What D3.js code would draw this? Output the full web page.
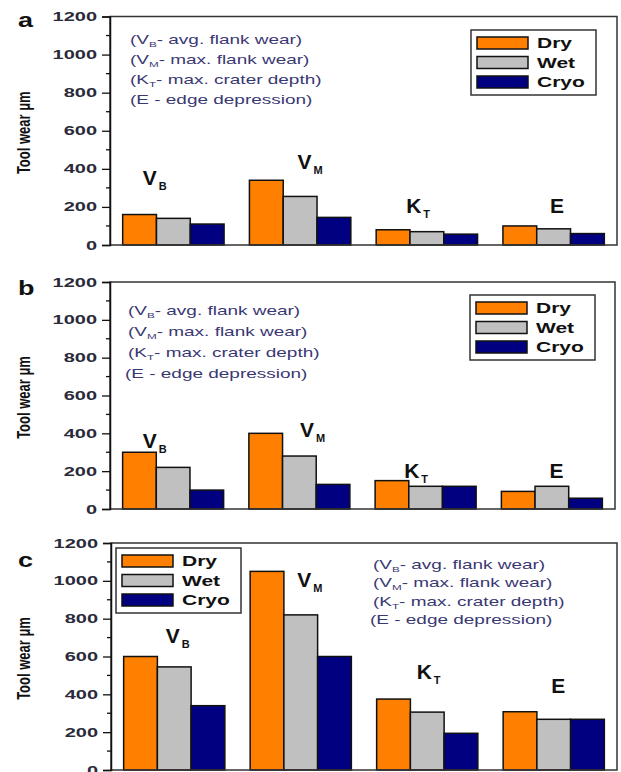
<!DOCTYPE html>
<html>
<head>
<meta charset="utf-8">
<script src="https://cdn.jsdelivr.net/npm/d3@7"></script>
<style>
  body { margin: 0; background: #fff; }
  svg { display: block; }
  text { font-family: "Liberation Sans", Arial, Helvetica, sans-serif; }
</style>
</head>
<body>
<svg id="chart" width="621" height="772"></svg>
<script>
// wear types (x groups) and cooling conditions (series)
const groups = ["VB", "VM", "KT", "E"];
const groupMain = ["V", "V", "K", "E"];
const groupSub = ["B", "M", "T", ""];
const series = ["Dry", "Wet", "Cryo"];
const seriesColors = ["#ff8000", "#c0c0c0", "#000080"];

// tool wear in µm
const dryA = [160, 340, 80, 100];
const wetA = [140, 255, 70, 85];
const cryoA = [110, 145, 57, 60];

const dryB = [300, 400, 150, 93];
const wetB = [220, 280, 120, 120];
const cryoB = [100, 130, 120, 57];

const dryC = [600, 1050, 375, 308];
const wetC = [545, 820, 306, 268];
const cryoC = [340, 600, 194, 268];

const yTicks = [0, 200, 400, 600, 800, 1000, 1200];
const yMinor = [100, 300, 500, 700, 900, 1100];

// legend of abbreviations
const notes = [
    ["(V", "B", "- avg. flank wear)"],
    ["(V", "M", "- max. flank wear)"],
    ["(K", "T", "- max. crater depth)"],
    ["(E - edge depression)", "", ""]
];

// layout for each panel (pixels), label spots as [dx from band start, value units]
const panels = [
    { letter: "a", data: [dryA, wetA, cryoA], x0: 110, x1: 617, y0: 245, y1: 16.5, letterY: 27,
      legend: [471, 30], noteX: [130, 130, 130, 130], noteY: 39, noteStep: 20,
      labels: [[20, 314], [48, 398], [30, 168], [47, 168]] },
    { letter: "b", data: [dryB, wetB, cryoB], x0: 110, x1: 615, y0: 509, y1: 282, letterY: 295,
      legend: [470, 295], noteX: [128, 128, 128, 125], noteY: 310, noteStep: 21,
      labels: [[20, 322], [51, 380], [29, 164], [48, 164]] },
    { letter: "c", data: [dryC, wetC, cryoC], x0: 111, x1: 617, y0: 770, y1: 543, letterY: 567,
      legend: [116, 548], noteX: [373, 373, 373, 370], noteY: 564, noteStep: 18.5,
      labels: [[42, 674], [47, 966], [40, 483], [48, 409]] }
];

const svg = d3.select("#chart");

panels.forEach(function (p) {
    const g = svg.append("g");

    const x = d3.scaleBand().domain(groups).range([p.x0, p.x1])
        .paddingInner(0.2).paddingOuter(0.1);
    const xs = d3.scaleBand().domain(series).range([0, x.bandwidth()]);
    const y = d3.scaleLinear().domain([0, 1200]).range([p.y0, p.y1]);

    // bars
    series.forEach(function (s, si) {
        g.selectAll(".bar-" + s)
            .data(p.data[si])
            .enter().append("rect")
            .attr("x", (d, i) => x(groups[i]) + xs(s))
            .attr("y", d => y(d))
            .attr("width", xs.bandwidth())
            .attr("height", d => y(0) - y(d))
            .attr("fill", seriesColors[si])
            .attr("stroke", "#111")
            .attr("stroke-width", 1.5);
    });

    // frame
    g.append("rect")
        .attr("x", p.x0).attr("y", y(1200))
        .attr("width", p.x1 - p.x0).attr("height", y(0) - y(1200))
        .attr("fill", "none").attr("stroke", "#333").attr("stroke-width", 1.5);

    // y axis
    const ax = g.append("g").attr("transform", "translate(" + p.x0 + ",0)");
    ax.call(d3.axisLeft(y).tickValues(yTicks).tickSize(8).tickFormat(""));
    ax.call(function (a) {
        a.select(".domain").attr("stroke", "#111").attr("stroke-width", 1.5);
        a.selectAll(".tick line").attr("stroke", "#111").attr("stroke-width", 1.3);
    });
    ax.selectAll(".minor").data(yMinor).enter().append("line")
        .attr("x1", -4).attr("x2", 0)
        .attr("y1", d => y(d)).attr("y2", d => y(d))
        .attr("stroke", "#111").attr("stroke-width", 1.3);
    ax.selectAll(".lbl").data(yTicks).enter().append("text")
        .attr("transform", d => "translate(-13," + (y(d) + 4.5) + ") scale(1.6,1)")
        .attr("text-anchor", "end")
        .attr("font-size", 12.5).attr("font-weight", "bold")
        .attr("fill", "#2a2a3a")
        .text(d => d);

    // y title
    g.append("text")
        .attr("transform", "translate(30," + ((p.y0 + p.y1) / 2 + 2) + ") scale(1.4,1) rotate(-90)")
        .attr("text-anchor", "middle")
        .attr("font-size", 13).attr("font-weight", "bold")
        .attr("fill", "#111")
        .text("Tool wear \u03bcm");

    // panel letter
    g.append("text")
        .attr("transform", "translate(18," + p.letterY + ") scale(1.35,1)")
        .attr("font-size", 20).attr("font-weight", "bold")
        .attr("fill", "#111")
        .text(p.letter);

    // group labels
    groups.forEach(function (k, i) {
        const t = g.append("text")
            .attr("x", x(k) + p.labels[i][0])
            .attr("y", y(p.labels[i][1]))
            .attr("font-weight", "bold").attr("fill", "#111");
        t.append("tspan").attr("font-size", 21).text(groupMain[i]);
        if (groupSub[i]) {
            t.append("tspan").attr("font-size", 11).attr("dx", 2).attr("dy", 5).text(groupSub[i]);
        }
    });

    // notes
    notes.forEach(function (n, i) {
        const t = g.append("text")
            .attr("transform", "translate(" + p.noteX[i] + "," + (p.noteY + i * p.noteStep + 4.5) + ") scale(1.46,1)")
            .attr("font-size", 13).attr("fill", "#3a3872");
        t.append("tspan").text(n[0]);
        if (n[1]) {
            t.append("tspan").attr("font-size", 8).attr("dy", 3).text(n[1]);
            t.append("tspan").attr("dy", -3).text(n[2]);
        }
    });

    // legend
    const lg = g.append("g").attr("transform", "translate(" + p.legend[0] + "," + p.legend[1] + ")");
    lg.append("rect").attr("width", 125).attr("height", 65)
        .attr("fill", "#fff").attr("stroke", "#333").attr("stroke-width", 1.5);
    series.forEach(function (s, si) {
        const ry = 13 + si * 19.5;
        lg.append("rect")
            .attr("x", 6).attr("y", ry - 6).attr("width", 51).attr("height", 12)
            .attr("fill", seriesColors[si]).attr("stroke", "#111").attr("stroke-width", 1.5);
        lg.append("text")
            .attr("transform", "translate(66," + (ry + 5) + ") scale(1.5,1)")
            .attr("font-size", 14).attr("font-weight", "bold").attr("fill", "#111")
            .text(s);
    });
});
</script>
</body>
</html>
